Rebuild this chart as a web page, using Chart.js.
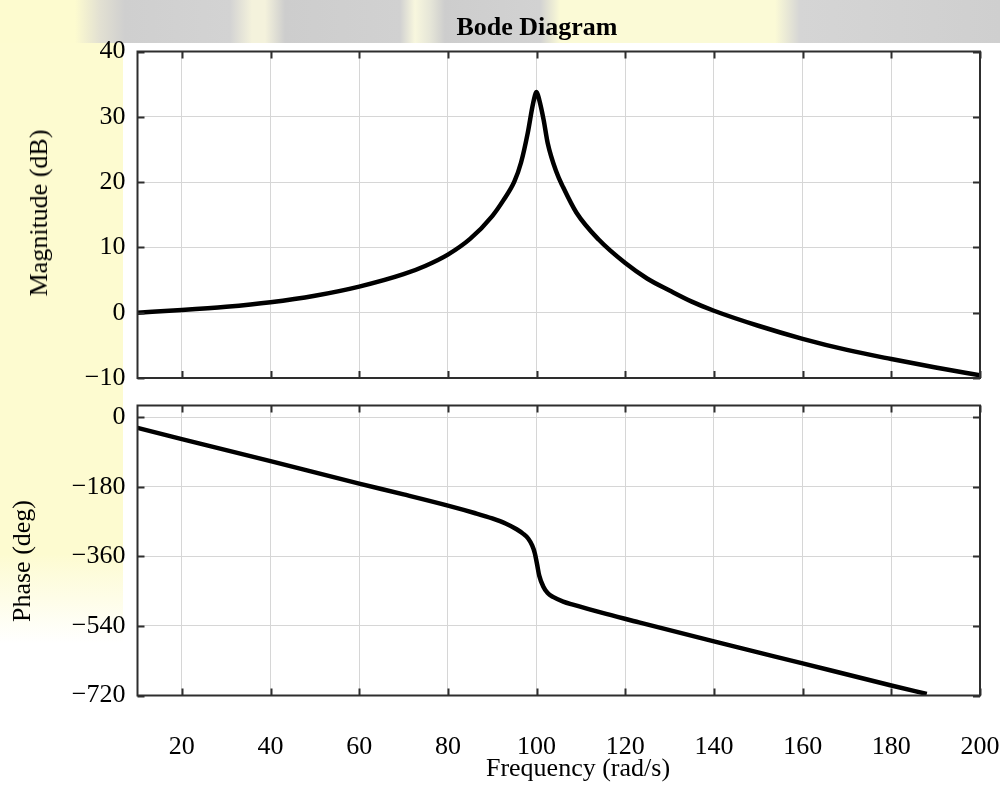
<!DOCTYPE html>
<html lang="en">
<head>
<meta charset="UTF-8">
<title>Bode Diagram</title>
<style>
    body {
        margin: 0;
        width: 1000px;
        height: 786px;
        overflow: hidden;
        background: #fff;
        font-family: "Liberation Serif", "Times New Roman", serif;
        position: relative;
    }
    .band-top {
        position: absolute; left: 0; top: 0; width: 1000px; height: 43px;
        background: linear-gradient(to right, #fdfbcf 0, #fdfbcf 75px, #e2e0d2 100px, #cfcfcf 125px, #d3d3d3 230px,
            #f4f2dc 252px, #f4f2dc 265px, #cdcdcd 285px, #d1d1d1 400px, #f8f7de 415px, #e6e6d8 430px, #cdcdcd 445px,
            #d2d2d2 540px, #fbfad6 560px, #fbfad6 775px, #d5d5d5 800px, #cfcfcf 1000px);
    }
    .band-left {
        position: absolute; left: 0; top: 43px; width: 123px; height: 600px;
        background: linear-gradient(to bottom, #fdfbd0 0, #fdfbd0 510px, #ffffff 600px);
    }
    .box { position: absolute; left: 0; width: 1000px; }
    .txt { position: absolute; color: #000; white-space: nowrap; }
    .title { left: 537px; top: 27px; transform: translate(-50%, -50%); font-weight: bold; font-size: 26px; }
    .ylab { transform: translate(-50%, -50%) rotate(-90deg); font-size: 26px; }
    .xlab { left: 578px; top: 768px; transform: translate(-50%, -50%); font-size: 26px; }
</style>
<script src="https://cdn.jsdelivr.net/npm/chart.js"></script>
</head>
<body>
<div class="band-top"></div>
<div class="band-left"></div>

<div class="box" style="top:0; height:400px;"><canvas id="mag"></canvas></div>
<div class="box" style="top:385px; height:401px;"><canvas id="phase"></canvas></div>

<div class="txt title">Bode Diagram</div>
<div class="txt ylab" style="left:39px; top:213px;">Magnitude (dB)</div>
<div class="txt ylab" style="left:22px; top:561px;">Phase (deg)</div>
<div class="txt xlab">Frequency (rad/s)</div>

<script>
// frequency ticks (rad/s)
const freqTicks = [20, 40, 60, 80, 100, 120, 140, 160, 180, 200];
const magTicks = [-10, 0, 10, 20, 30, 40];
const phaseTicks = [-720, -540, -360, -180, 0];

// magnitude curve
const magFreq = [10, 20, 30, 40, 50, 60, 70, 75, 80, 85, 90, 92.5, 95, 96.5, 98, 99.2, 100,
                 100.6, 101.6, 102.5, 104.5, 106, 109, 114, 120, 125, 130, 135, 140, 150, 160,
                 170, 180, 190, 200];
const magDb = [0, 0.4, 0.9, 1.6, 2.6, 4.0, 5.9, 7.2, 8.9, 11.3, 14.8, 17.2, 20.1, 23, 27.5, 32, 33.8,
               32.6, 29.5, 26, 21.5, 19.2, 15.3, 11.2, 7.6, 5.2, 3.4, 1.7, 0.3, -2, -4, -5.7, -7.1, -8.4, -9.6];

// phase curve
const phaseFreq = [10, 20, 40, 60, 70, 80, 86, 90, 93, 95.5, 97, 98.1, 99, 99.6, 100.1, 100.6, 101.5,
                   102.5, 103.7, 106, 108.2, 115.7, 123.1, 140, 160, 180, 188];
const phaseDeg = [-28, -57, -114, -172, -200, -229, -248, -262, -275, -290, -302, -314, -332, -352,
                  -380, -410, -438, -455, -465, -477, -485, -509, -531, -580, -637, -694, -716];

const serif = "'Liberation Serif', 'Times New Roman', serif";
const gridColor = '#d6d6d6';
const frameColor = '#2e2e2e';

function minus(v) {
    return String(v).replace('-', '\u2212');
}

// frame box plus inward tick marks, like the classic plot look
const framePlugin = {
    id: 'frame',
    afterDraw(chart) {
        const ctx = chart.ctx;
        const a = chart.chartArea;
        const xs = chart.scales.x, ys = chart.scales.y;
        ctx.save();
        ctx.strokeStyle = frameColor;
        ctx.lineWidth = 2;
        ctx.beginPath();
        xs.ticks.forEach(t => {
            const px = Math.round(xs.getPixelForValue(t.value)) + 0.5;
            ctx.moveTo(px, a.bottom); ctx.lineTo(px, a.bottom - 7);
            ctx.moveTo(px, a.top); ctx.lineTo(px, a.top + 7);
        });
        ys.ticks.forEach(t => {
            const py = Math.round(ys.getPixelForValue(t.value)) + 0.5;
            ctx.moveTo(a.left, py); ctx.lineTo(a.left + 7, py);
            ctx.moveTo(a.right, py); ctx.lineTo(a.right - 7, py);
        });
        ctx.stroke();
        ctx.strokeRect(a.left, a.top, a.right - a.left, a.bottom - a.top);
        ctx.restore();
    }
};

function makeChart(id, xs, ys, yTicks, yMin, yMax, padTop, showX, xHeight) {
    return new Chart(document.getElementById(id), {
        type: 'line',
        data: {
            datasets: [{
                data: xs.map((f, i) => ({ x: f, y: ys[i] })),
                borderColor: '#000',
                borderWidth: 4.5,
                pointRadius: 0,
                cubicInterpolationMode: 'monotone',
                fill: false
            }]
        },
        options: {
            responsive: true,
            maintainAspectRatio: false,
            animation: false,
            layout: { padding: { top: padTop, right: 20, left: 0, bottom: 0 } },
            plugins: { legend: { display: false }, tooltip: { enabled: false } },
            scales: {
                x: {
                    type: 'linear',
                    min: 10,
                    max: 200,
                    afterBuildTicks: s => { s.ticks = freqTicks.map(v => ({ value: v })); },
                    afterFit: s => { s.height = xHeight; s.paddingLeft = 0; s.paddingRight = 0; },
                    grid: { color: gridColor, drawTicks: false },
                    border: { display: false },
                    ticks: {
                        display: showX,
                        padding: 36,
                        color: '#000',
                        maxRotation: 0,
                        font: { family: serif, size: 26 }
                    }
                },
                y: {
                    min: yMin,
                    max: yMax,
                    afterBuildTicks: s => { s.ticks = yTicks.map(v => ({ value: v })); },
                    afterFit: s => { s.width = 137.5; s.paddingTop = 0; s.paddingBottom = 0; },
                    grid: { color: gridColor, drawTicks: false },
                    border: { display: false },
                    ticks: {
                        padding: 12,
                        color: '#000',
                        font: { family: serif, size: 26 },
                        callback: v => minus(v)
                    }
                }
            }
        },
        plugins: [framePlugin]
    });
}

makeChart('mag', magFreq, magDb, magTicks, -10, 40, 51.5, false, 22);
makeChart('phase', phaseFreq, phaseDeg, phaseTicks, -720, 30, 20.5, true, 90.5);
</script>
</body>
</html>
